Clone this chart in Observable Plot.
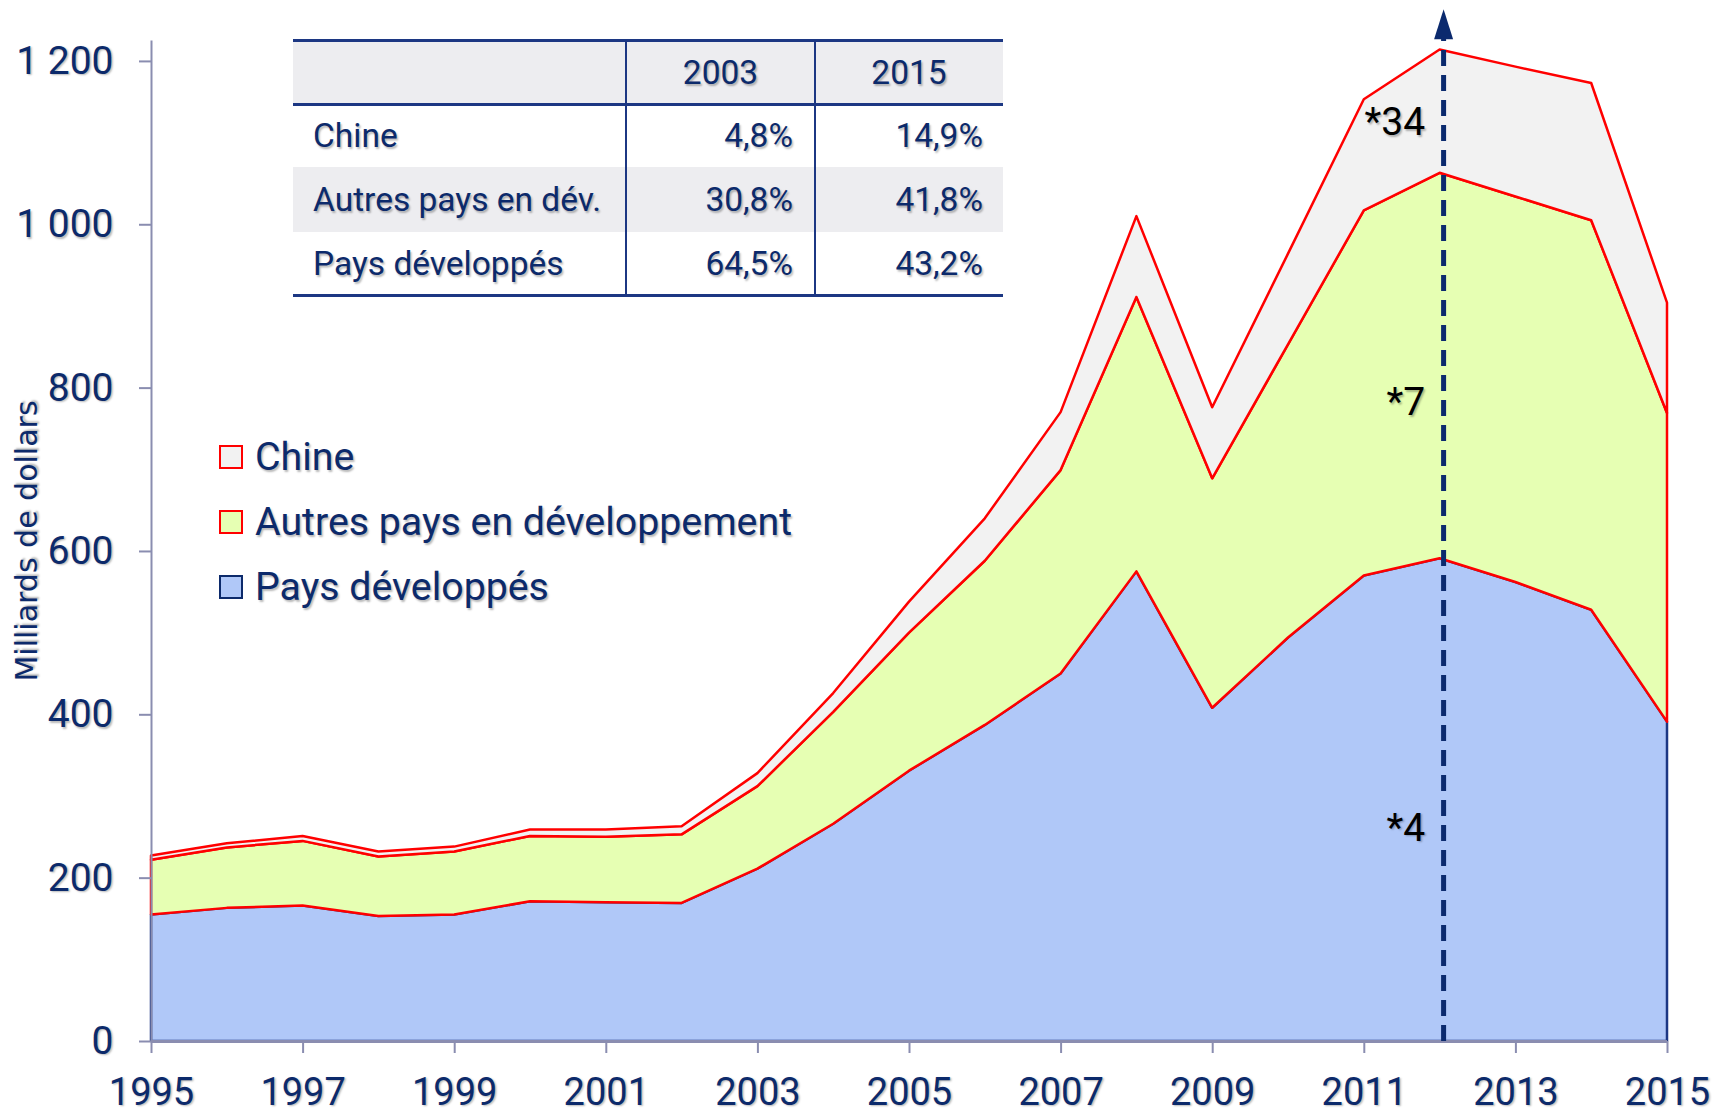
<!DOCTYPE html>
<html><head><meta charset="utf-8">
<script src="https://cdn.jsdelivr.net/npm/d3@7"></script>
<script src="https://cdn.jsdelivr.net/npm/@observablehq/plot@0.6"></script>
<style>
html,body{margin:0;padding:0;background:#fff;}
#wrap{position:relative;width:1715px;height:1114px;overflow:hidden;background:#fff;}
#wrap svg text{text-shadow:1.5px 1.5px 2px rgba(0,0,0,0.28);}
.ov{position:absolute;font-family:Roboto,sans-serif;color:#0c2a6b;white-space:nowrap;text-shadow:1.5px 1.5px 2px rgba(0,0,0,0.28);}
</style></head><body><div id="wrap"></div>
<script>
// ---- data ----
const years = [1995,1996,1997,1998,1999,2000,2001,2002,2003,2004,2005,2006,2007,2008,2009,2010,2011,2012,2013,2014,2015];
const developed       = [155,163,166,153,155,171,170,169,211,266,331,387,450,575,408,494,570,591,562,528,391];
const otherDeveloping = [ 67, 74, 79, 73, 77, 80, 80, 84,101,137,169,201,249,336,281,359,447,472,472,477,378];
const china           = [  5,  5,  6,  6,  6,  8,  9, 10, 16, 23, 38, 52, 71, 99, 87,111,136,151,159,168,135];
const seriesNames = ["Chine", "Autres pays en développement", "Pays développés"];
const xTicks = [1995,1997,1999,2001,2003,2005,2007,2009,2011,2013,2015];
const yTicks = [0,200,400,600,800,1000,1200];
const yTitle = "Milliards de dollars";
const tableYears = ["2003", "2015"];
const tableLabels = ["Chine", "Autres pays en dév.", "Pays développés"];
const share2003 = ["4,8%", "30,8%", "64,5%"];
const share2015 = ["14,9%", "41,8%", "43,2%"];
const arrowYear = 2012;
const arrowTop = 1227;
const annotations = [{text: "*34", value: 1125}, {text: "*7", value: 782}, {text: "*4", value: 261}];

// ---- styles ----
const navy = "#0c2a6b";
const axisGrey = "#8a8db0";
const lineNavy = "#1c3783";
const fills = {"Chine": "#f2f2f2", "Autres pays en développement": "#e6ffb3", "Pays développés": "#b0c8f8"};
const strokes = {"Chine": "#ff0000", "Autres pays en développement": "#ff0000", "Pays développés": "#1c3783"};

const rows = years.map((year, i) => ({
  year,
  s1: developed[i],
  s2: developed[i] + otherDeveloping[i],
  s3: developed[i] + otherDeveloping[i] + china[i]
}));

const fmt = d => d3.format(",")(d).replace(/,/g, " ");
const arrowHead = {draw(ctx) { ctx.moveTo(0, -30); ctx.lineTo(9.5, 0); ctx.lineTo(-9.5, 0); ctx.closePath(); }};

const chart = Plot.plot({
  width: 1715, height: 1114,
  marginLeft: 151, marginRight: 48, marginTop: 40.5, marginBottom: 73,
  x: {domain: [1995, 2015], label: null},
  y: {domain: [0, 1225], label: null},
  style: {fontFamily: "Roboto, sans-serif", color: navy, background: "transparent", overflow: "visible"},
  marks: [
    Plot.areaY(rows, {x: "year", y1: 0, y2: "s1", fill: fills["Pays développés"], stroke: strokes["Pays développés"], strokeWidth: 2.5}),
    Plot.areaY(rows, {x: "year", y1: "s1", y2: "s2", fill: fills["Autres pays en développement"], stroke: strokes["Autres pays en développement"], strokeWidth: 2.5}),
    Plot.areaY(rows, {x: "year", y1: "s2", y2: "s3", fill: fills["Chine"], stroke: strokes["Chine"], strokeWidth: 2.5}),
    Plot.ruleX([1995], {stroke: axisGrey, strokeWidth: 2}),
    Plot.ruleY([0], {stroke: axisGrey, strokeWidth: 3}),
    Plot.axisY({ticks: yTicks, tickSize: 12, tickPadding: 26, tickFormat: fmt, stroke: axisGrey, strokeWidth: 2, color: navy, fontSize: 39, label: null}),
    Plot.axisX({ticks: xTicks, tickSize: 12, tickPadding: 24.5, tickFormat: d => String(d), stroke: axisGrey, strokeWidth: 2, color: navy, fontSize: 38, label: null}),
    Plot.ruleX([arrowYear], {y1: 0, y2: arrowTop, stroke: "#0b2a6e", strokeWidth: 5, strokeDasharray: "16,9", dx: 3.5}),
    Plot.dot([arrowYear], {x: d => d, y: () => arrowTop, symbol: arrowHead, r: 10, fill: "#0b2a6e", stroke: "none", dx: 3.5}),
    Plot.text(annotations, {x: () => arrowYear, y: "value", text: "text", textAnchor: "end", dx: -15, fontSize: 39, fill: "#000"})
  ]
});
const wrap = document.getElementById("wrap");
wrap.appendChild(chart);

// ---- y-axis title (HTML overlay, rotated) ----
const yt = document.createElement("div");
yt.className = "ov";
yt.textContent = yTitle;
yt.style.cssText += `left:27px;top:541px;font-family:'DejaVu Sans',Verdana,sans-serif;font-size:30px;line-height:36px;transform:translate(-50%,-50%) rotate(-90deg);`;
wrap.appendChild(yt);

// ---- legend (HTML overlay) ----
const legendTop = [457, 522, 587];
seriesNames.forEach((name, i) => {
  const sw = document.createElement("div");
  sw.style.cssText = `position:absolute;left:219px;top:${legendTop[i] - 12}px;width:24px;height:24px;box-sizing:border-box;background:${fills[name]};border:2.5px solid ${strokes[name] === "#ff0000" ? "#ff0000" : "#0c2a6b"};`;
  wrap.appendChild(sw);
  const t = document.createElement("div");
  t.className = "ov";
  t.textContent = name;
  t.style.cssText += `left:255px;top:${legendTop[i] - 25}px;height:50px;line-height:50px;font-size:39.3px;`;
  wrap.appendChild(t);
});

// ---- table (HTML overlay) ----
const tL = 293, tR = 1003, c1 = 626, c2 = 815;
const hLines = [40.5, 104, 295];
const rowBounds = [[104, 167], [167, 232], [232, 295]];
function box(css) { const d = document.createElement("div"); d.style.cssText = "position:absolute;" + css; wrap.appendChild(d); return d; }
box(`left:${tL}px;top:40.5px;width:${tR - tL}px;height:63.5px;background:#ededf0;`);
box(`left:${tL}px;top:167px;width:${tR - tL}px;height:65px;background:#ededf0;`);
hLines.forEach(y => box(`left:${tL}px;top:${y - 1.5}px;width:${tR - tL}px;height:3px;background:${lineNavy};`));
[c1, c2].forEach(x => box(`left:${x - 1.25}px;top:40.5px;width:2.5px;height:254.5px;background:${lineNavy};`));
function txt(s, css) { const d = document.createElement("div"); d.className = "ov"; d.textContent = s; d.style.cssText += css; wrap.appendChild(d); }
tableYears.forEach((yr, j) => {
  const [a, b] = j === 0 ? [c1, c2] : [c2, tR];
  txt(yr, `left:${a}px;width:${b - a}px;text-align:center;top:40.5px;height:63.5px;line-height:63.5px;font-size:33.5px;`);
});
tableLabels.forEach((lab, i) => {
  const [y0, y1] = rowBounds[i];
  const h = y1 - y0;
  txt(lab, `left:${tL + 20}px;top:${y0}px;height:${h}px;line-height:${h}px;font-size:33.5px;`);
  txt(share2003[i], `left:${c1}px;width:${c2 - c1 - 22}px;text-align:right;top:${y0}px;height:${h}px;line-height:${h}px;font-size:33.5px;`);
  txt(share2015[i], `left:${c2}px;width:${tR - c2 - 20}px;text-align:right;top:${y0}px;height:${h}px;line-height:${h}px;font-size:33.5px;`);
});
</script></body></html>
